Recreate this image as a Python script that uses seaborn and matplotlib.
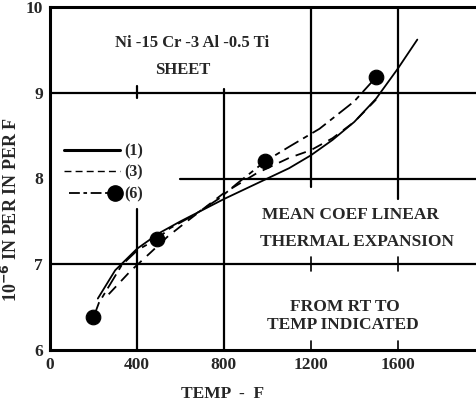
import matplotlib
matplotlib.use("Agg")
import matplotlib.pyplot as plt
import seaborn as sns
import pandas as pd
from matplotlib.lines import Line2D
from matplotlib.legend_handler import HandlerLine2D

# ---- data ----
temp_1 = [220, 300, 400, 500, 600, 700, 800, 900, 1000, 1100, 1200, 1300, 1400, 1500, 1600, 1690]
coef_1 = [6.60, 6.93, 7.18, 7.36, 7.50, 7.63, 7.76, 7.88, 8.00, 8.12, 8.27, 8.45, 8.66, 8.93, 9.28, 9.62]

temp_3 = [270, 370, 460, 540, 630, 800, 950, 1100, 1200, 1300, 1400, 1500]
coef_3 = [6.65, 6.92, 7.13, 7.32, 7.50, 7.83, 8.06, 8.24, 8.33, 8.47, 8.66, 8.92]

temp_6 = [200, 225, 280, 330, 405, 490, 552, 660, 780, 860, 990, 1100, 1240, 1400, 1500]
coef_6 = [6.38, 6.55, 6.78, 6.99, 7.17, 7.29, 7.42, 7.57, 7.77, 7.94, 8.20, 8.37, 8.58, 8.90, 9.18]

pts_temp = [200, 490, 990, 1500]
pts_coef = [6.38, 7.29, 8.20, 9.18]

x_ticks = [0, 400, 800, 1200, 1600]
y_ticks = [6, 7, 8, 9, 10]
legend_labels = ["(1)", "(3)", "(6)"]

sns.set_style("white")
plt.rcParams["font.family"] = ["Liberation Serif", "DejaVu Serif"]
plt.rcParams["font.weight"] = "bold"
plt.rcParams["mathtext.default"] = "bf"

fig = plt.figure(figsize=(4.76, 4.05), dpi=100)
ax = fig.add_axes([50 / 476, 55 / 405, 426 / 476, 343 / 405])
ax.set_xlim(0, 1960)
ax.set_ylim(6, 10)

# partial grid lines (chart frame layout)
gkw = dict(color="black", lw=1.6, zorder=1)
ax.axhline(9, 0, 1, **gkw)
ax.axhline(8, 0.306, 1, **gkw)
ax.axhline(7, 0, 1, **gkw)
ax.axvline(400, 0, 0.41, **gkw)
ax.axvline(400, 0.735, 0.77, **gkw)
ax.axvline(800, 0, 0.76, **gkw)
ax.axvline(1200, 0.475, 1, **gkw)
ax.axvline(1600, 0.44, 1, **gkw)
for xv in (1200, 1600):
    ax.axvline(xv, 0.23, 0.27, color="black", lw=1.2, zorder=1)
    ax.axvline(xv, 0.0, 0.025, color="black", lw=1.2, zorder=1)

df1 = pd.DataFrame({"t": temp_1, "c": coef_1})
df3 = pd.DataFrame({"t": temp_3, "c": coef_3})
df6 = pd.DataFrame({"t": temp_6, "c": coef_6})
dfp = pd.DataFrame({"t": pts_temp, "c": pts_coef})

sns.lineplot(data=df1, x="t", y="c", ax=ax, color="black", lw=1.3, zorder=3, sort=True)
sns.lineplot(data=df3, x="t", y="c", ax=ax, color="black", lw=1.3, zorder=3, sort=True)
sns.lineplot(data=df6, x="t", y="c", ax=ax, color="black", lw=1.3, zorder=3, sort=True)
lines = ax.get_lines()
l1, l3, l6 = lines[-3], lines[-2], lines[-1]
l1.set_linestyle("-")
l3.set_linestyle((0, (6, 4)))
l6.set_linestyle((0, (9, 3, 3, 3)))
sns.scatterplot(data=dfp, x="t", y="c", ax=ax, color="black", s=110, zorder=4, edgecolor="black")


class EndMarkerHandler(HandlerLine2D):
    def create_artists(self, legend, orig_handle, xdescent, ydescent, width, height,
                       fontsize, trans):
        arts = super().create_artists(legend, orig_handle, xdescent, ydescent, width,
                                      height, fontsize, trans)
        for a in arts:
            if a.get_marker() not in (None, "None", ""):
                a.set_markevery([1])
        return arts


# legend proxies
h1 = Line2D([], [], color="black", lw=2.2, ls="-")
h3 = Line2D([], [], color="black", lw=1.0, ls=(0, (5, 3)))
h6 = Line2D([], [], color="black", lw=1.3, ls=(0, (6, 2, 2, 2)), marker="o", markersize=11)
leg = ax.legend([h1, h3, h6], legend_labels, loc="upper left", bbox_to_anchor=(0.033, 0.603),
                frameon=False, handlelength=3.5, handletextpad=0.25, labelspacing=0.35,
                borderpad=0, borderaxespad=0,
                handler_map={h6: EndMarkerHandler(numpoints=2)},
                prop={"family": "Liberation Serif", "weight": "bold", "size": 11.5})

tkw = dict(ha="center", va="center", fontsize=12.5, fontweight="bold", zorder=5)
ax.text(655, 9.58, "Ni -15 Cr -3 Al -0.5 Ti", fontsize=12, ha="center", va="center",
        fontweight="bold", zorder=5)
ax.text(612, 9.27, "SHEET", fontsize=12, ha="center", va="center", fontweight="bold", zorder=5)
ax.text(1384, 7.57, "MEAN COEF LINEAR", **tkw)
ax.text(1414, 7.26, "THERMAL EXPANSION", **tkw)
ax.text(1356, 6.50, "FROM RT TO", **tkw)
ax.text(1349, 6.29, "TEMP INDICATED", **tkw)

ax.set_xticks(x_ticks)
ax.set_yticks(y_ticks)
ax.set_xticklabels([str(v) for v in x_ticks], fontsize=12.5, fontweight="bold")
ax.set_yticklabels([str(v) for v in y_ticks], fontsize=12.5, fontweight="bold")
ax.tick_params(axis="both", direction="in", length=4, width=1.2, pad=5)

ax.set_xlabel("TEMP  -  F", fontsize=12.5, fontweight="bold")
ax.xaxis.set_label_coords(0.404, -0.105)
ax.set_ylabel(r"10$^{-6}$ IN PER IN PER F", fontsize=13, fontweight="bold")
ax.yaxis.set_label_coords(-0.068, 0.41)

for side in ("left", "bottom", "top"):
    ax.spines[side].set_visible(True)
    ax.spines[side].set_linewidth(2.2)
    ax.spines[side].set_color("black")
ax.spines["right"].set_visible(False)

fig.savefig("out.png", dpi=100)
